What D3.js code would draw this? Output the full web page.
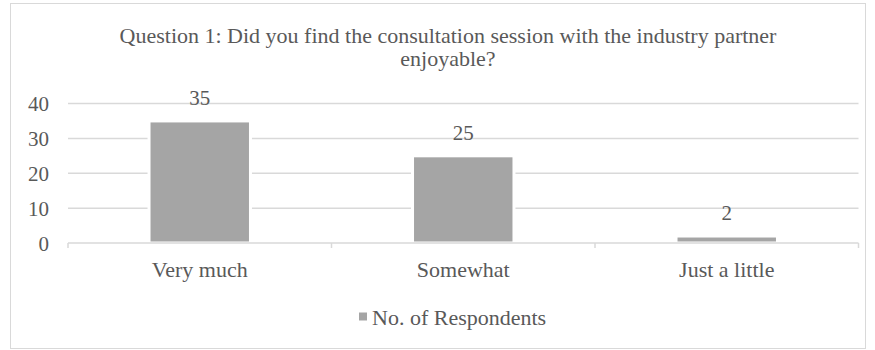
<!DOCTYPE html>
<html>
<head>
<meta charset="utf-8">
<script src="https://cdn.jsdelivr.net/npm/d3@7"></script>
<style>
body { margin: 0; background: #fff; }
text { font-family: "Liberation Serif", "Times New Roman", serif; fill: #595959; }
</style>
</head>
<body>
<svg id="chart"></svg>
<script>
var categories = ["Very much", "Somewhat", "Just a little"];
var respondents = [35, 25, 2];
var yTicks = [0, 10, 20, 30, 40];
var titleLines = ["Question 1: Did you find the consultation session with the industry partner", "enjoyable?"];
var seriesName = "No. of Respondents";

var width = 875, height = 350;
var svg = d3.select("#chart").attr("width", width).attr("height", height);

// outer frame
svg.append("rect")
    .attr("x", 10.5).attr("y", 3.5)
    .attr("width", 855).attr("height", 345)
    .attr("fill", "#fff").attr("stroke", "#d9d9d9");

var x = d3.scaleBand().domain(categories).range([68, 858.5]).padding(0);
var y = d3.scaleLinear().domain([0, 40]).range([243, 103.5]);
var barW = x.bandwidth() * 0.385;

// title
svg.selectAll(".title")
    .data(titleLines)
    .enter().append("text")
    .attr("x", 448)
    .attr("y", (d, i) => 43 + i * 23)
    .attr("text-anchor", "middle")
    .attr("font-size", 22)
    .text(d => d);

// gridlines
svg.selectAll(".grid")
    .data(yTicks.filter(d => d > 0))
    .enter().append("line")
    .attr("x1", 68).attr("x2", 858.5)
    .attr("y1", d => y(d)).attr("y2", d => y(d))
    .attr("stroke", "#d9d9d9").attr("stroke-width", 1.5);

// y labels
svg.selectAll(".ylab")
    .data(yTicks)
    .enter().append("text")
    .attr("x", 49)
    .attr("y", d => y(d) + 7.5)
    .attr("text-anchor", "end")
    .attr("font-size", 21)
    .text(d => d);

// bars
svg.selectAll(".bar")
    .data(respondents)
    .enter().append("rect")
    .attr("x", (d, i) => x(categories[i]) + (x.bandwidth() - barW) / 2)
    .attr("y", d => y(d))
    .attr("width", barW)
    .attr("height", d => y(0) - y(d))
    .attr("fill", "#a5a5a5")
    .attr("stroke", "#fff").attr("stroke-width", 3);

// x axis line and ticks
svg.append("line")
    .attr("x1", 68).attr("x2", 858.5)
    .attr("y1", y(0)).attr("y2", y(0))
    .attr("stroke", "#d9d9d9").attr("stroke-width", 1.5);
var bounds = categories.map(c => x(c)).concat([x.range()[1]]);
svg.selectAll(".xtick")
    .data(bounds)
    .enter().append("line")
    .attr("x1", d => d).attr("x2", d => d)
    .attr("y1", y(0)).attr("y2", y(0) + 5)
    .attr("stroke", "#d9d9d9").attr("stroke-width", 1.5);

// data labels
svg.selectAll(".dlab")
    .data(respondents)
    .enter().append("text")
    .attr("x", (d, i) => x(categories[i]) + x.bandwidth() / 2)
    .attr("y", d => y(d) - 16)
    .attr("text-anchor", "middle")
    .attr("font-size", 21)
    .text(d => d);

// category labels
svg.selectAll(".xlab")
    .data(categories)
    .enter().append("text")
    .attr("x", d => x(d) + x.bandwidth() / 2)
    .attr("y", 277)
    .attr("text-anchor", "middle")
    .attr("font-size", 22)
    .text(d => d);

// legend
svg.append("rect")
    .attr("x", 359).attr("y", 312.5)
    .attr("width", 8).attr("height", 8)
    .attr("fill", "#a5a5a5");
svg.append("text")
    .attr("x", 372).attr("y", 324.5)
    .attr("font-size", 22)
    .text(seriesName);
</script>
</body>
</html>
